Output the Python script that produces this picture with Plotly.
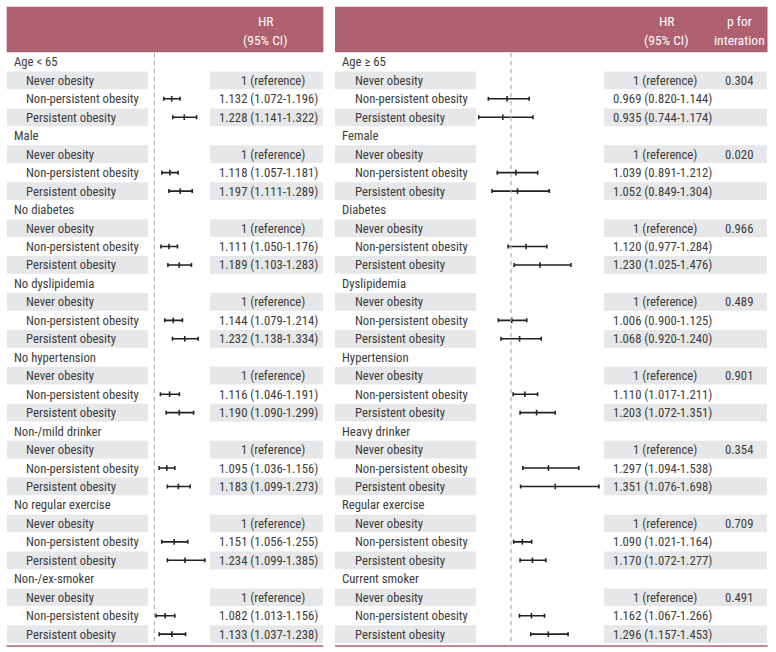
import plotly.graph_objects as go

W, H = 776, 652

# ---------------- data ----------------
left_groups = ["Age < 65", "Male", "No diabetes", "No dyslipidemia", "No hypertension",
               "Non-/mild drinker", "No regular exercise", "Non-/ex-smoker"]
left_np_hr = [1.132, 1.118, 1.111, 1.144, 1.116, 1.095, 1.151, 1.082]
left_np_lo = [1.072, 1.057, 1.050, 1.079, 1.046, 1.036, 1.056, 1.013]
left_np_hi = [1.196, 1.181, 1.176, 1.214, 1.191, 1.156, 1.255, 1.156]
left_p_hr = [1.228, 1.197, 1.189, 1.232, 1.190, 1.183, 1.234, 1.133]
left_p_lo = [1.141, 1.111, 1.103, 1.138, 1.090, 1.099, 1.099, 1.037]
left_p_hi = [1.322, 1.289, 1.283, 1.334, 1.299, 1.273, 1.385, 1.238]

right_groups = ["Age ≥ 65", "Female", "Diabetes", "Dyslipidemia", "Hypertension",
                "Heavy drinker", "Regular exercise", "Current smoker"]
right_np_hr = [0.969, 1.039, 1.120, 1.006, 1.110, 1.297, 1.090, 1.162]
right_np_lo = [0.820, 0.891, 0.977, 0.900, 1.017, 1.094, 1.021, 1.067]
right_np_hi = [1.144, 1.212, 1.284, 1.125, 1.211, 1.538, 1.164, 1.266]
right_p_hr = [0.935, 1.052, 1.230, 1.068, 1.203, 1.351, 1.170, 1.296]
right_p_lo = [0.744, 0.849, 1.025, 0.920, 1.072, 1.076, 1.072, 1.157]
right_p_hi = [1.174, 1.304, 1.476, 1.240, 1.351, 1.698, 1.277, 1.453]
p_interaction = ["0.304", "0.020", "0.966", "0.489", "0.901", "0.354", "0.709", "0.491"]

sub_labels = ["Never obesity", "Non-persistent obesity", "Persistent obesity"]
ref_text = "1 (reference)"

# ---------------- style ----------------
FONT = "Roboto Condensed, Liberation Sans Narrow, Roboto, sans-serif"
TXT = "#3c3c3c"
HEAD = "#af6070"
GRAY = "#e6e7e8"
FS = 12.7

ROW0, PITCH = 61.9, 18.46  # pixel centre of first row, row pitch


def px2row(p):
    return (p - ROW0) / PITCH


def px(x):
    return x / W


def py(y):
    return 1 - y / H


fig = go.Figure()
shapes, ann = [], []


def fmt(h, l, u):
    return f"{h:.3f} ({l:.3f}-{u:.3f})"


def panel(groups, np_hr, np_lo, np_hi, p_hr, p_lo, p_hi, xaxis, cfg, pvals=None):
    for g in range(len(groups)):
        base = g * 4
        for r in (base + 1, base + 3):
            for (a, b) in cfg["boxes"]:
                shapes.append(dict(type="rect", xref="paper", yref="y",
                                   x0=px(a), x1=px(b), y0=r - 0.48, y1=r + 0.48,
                                   fillcolor=GRAY, line_width=0, layer="below"))
    for g, name in enumerate(groups):
        base = g * 4
        ann.append(dict(x=px(cfg["gx"]), y=base, xref="paper", yref="y", text=name,
                        xanchor="left", yanchor="middle", showarrow=False))
        for k, s in enumerate(sub_labels):
            ann.append(dict(x=px(cfg["sx"]), y=base + 1 + k, xref="paper", yref="y", text=s,
                            xanchor="left", yanchor="middle", showarrow=False))
        ann.append(dict(x=px(cfg["refx"]), y=base + 1, xref="paper", yref="y", text=ref_text,
                        xanchor="center", yanchor="middle", showarrow=False))
        ann.append(dict(x=px(cfg["hrx"]), y=base + 2, xref="paper", yref="y",
                        text=fmt(np_hr[g], np_lo[g], np_hi[g]),
                        xanchor="center", yanchor="middle", showarrow=False))
        ann.append(dict(x=px(cfg["hrx"]), y=base + 3, xref="paper", yref="y",
                        text=fmt(p_hr[g], p_lo[g], p_hi[g]),
                        xanchor="center", yanchor="middle", showarrow=False))
        if pvals is not None:
            ann.append(dict(x=px(cfg["px"]), y=base + 1, xref="paper", yref="y", text=pvals[g],
                            xanchor="center", yanchor="middle", showarrow=False))
    xs, ys, ep, em = [], [], [], []
    for g in range(len(groups)):
        for (h, l, u, off) in ((np_hr[g], np_lo[g], np_hi[g], 2), (p_hr[g], p_lo[g], p_hi[g], 3)):
            xs.append(h)
            ys.append(g * 4 + off)
            ep.append(u - h)
            em.append(h - l)
    fig.add_trace(go.Scatter(
        x=xs, y=ys, xaxis=xaxis, yaxis="y", mode="markers",
        marker=dict(symbol="line-ns", size=4, line=dict(width=1.6, color="#222222"), color="#222222"),
        error_x=dict(type="data", symmetric=False, array=ep, arrayminus=em,
                     color="#222222", thickness=1.6, width=2),
        showlegend=False, hoverinfo="skip"))
    shapes.append(dict(type="line", xref=xaxis, yref="y", x0=1, x1=1,
                       y0=px2row(53), y1=px2row(645),
                       line=dict(color="#b0b0b0", width=1.2, dash="4px,4px")))
    shapes.append(dict(type="rect", xref="paper", yref="paper",
                       x0=px(cfg["hx0"]), x1=px(cfg["hx1"]), y0=py(52.3), y1=py(6.7),
                       fillcolor=HEAD, line_width=0))
    shapes.append(dict(type="line", xref="paper", yref="paper",
                       x0=px(cfg["hx0"]), x1=px(cfg["hx1"]), y0=py(646), y1=py(646),
                       line=dict(color=HEAD, width=1.5)))


left_cfg = dict(boxes=[(7, 148), (210, 323)], gx=11.5, sx=24.3, refx=272.7, hrx=268.3,
                hx0=6.7, hx1=323.3)
right_cfg = dict(boxes=[(335, 476), (604, 767)], gx=340.3, sx=352.8, refx=664.5, hrx=662.8,
                 px=739, hx0=335, hx1=767.5)

panel(left_groups, left_np_hr, left_np_lo, left_np_hi, left_p_hr, left_p_lo, left_p_hi,
      "x", left_cfg)
panel(right_groups, right_np_hr, right_np_lo, right_np_hi, right_p_hr, right_p_lo, right_p_hi,
      "x2", right_cfg, pvals=p_interaction)

for (x, y, t) in [(265.7, 20.7, "HR"), (265.7, 39.5, "(95% CI)"),
                  (666.7, 20.7, "HR"), (666.7, 39.5, "(95% CI)"),
                  (739.3, 20.7, "p for"), (739.3, 39.5, "interation")]:
    ann.append(dict(x=px(x), y=py(y), xref="paper", yref="paper", text=t,
                    xanchor="center", yanchor="middle", showarrow=False,
                    font=dict(color="white", size=13.5, family=FONT)))

lx0, lx1 = 150, 210
rx0, rx1 = 470, 604
fig.update_layout(
    width=W, height=H, margin=dict(l=0, r=0, t=0, b=0),
    paper_bgcolor="white", plot_bgcolor="rgba(0,0,0,0)",
    font=dict(family=FONT, size=FS, color=TXT),
    xaxis=dict(domain=[px(lx0), px(lx1)], range=[1 + (lx0 - 154.4) / 131, 1 + (lx1 - 154.4) / 131],
               visible=False, fixedrange=True),
    xaxis2=dict(domain=[px(rx0), px(rx1)], range=[1 + (rx0 - 511) / 126, 1 + (rx1 - 511) / 126],
                visible=False, anchor="y", fixedrange=True),
    yaxis=dict(domain=[0, 1], range=[px2row(H), px2row(0)], visible=False, fixedrange=True),
    shapes=shapes, annotations=ann,
)

fig.write_html("out.html", config={"displayModeBar": False},
               post_script="document.body.style.margin='0';document.body.style.overflow='hidden';")
